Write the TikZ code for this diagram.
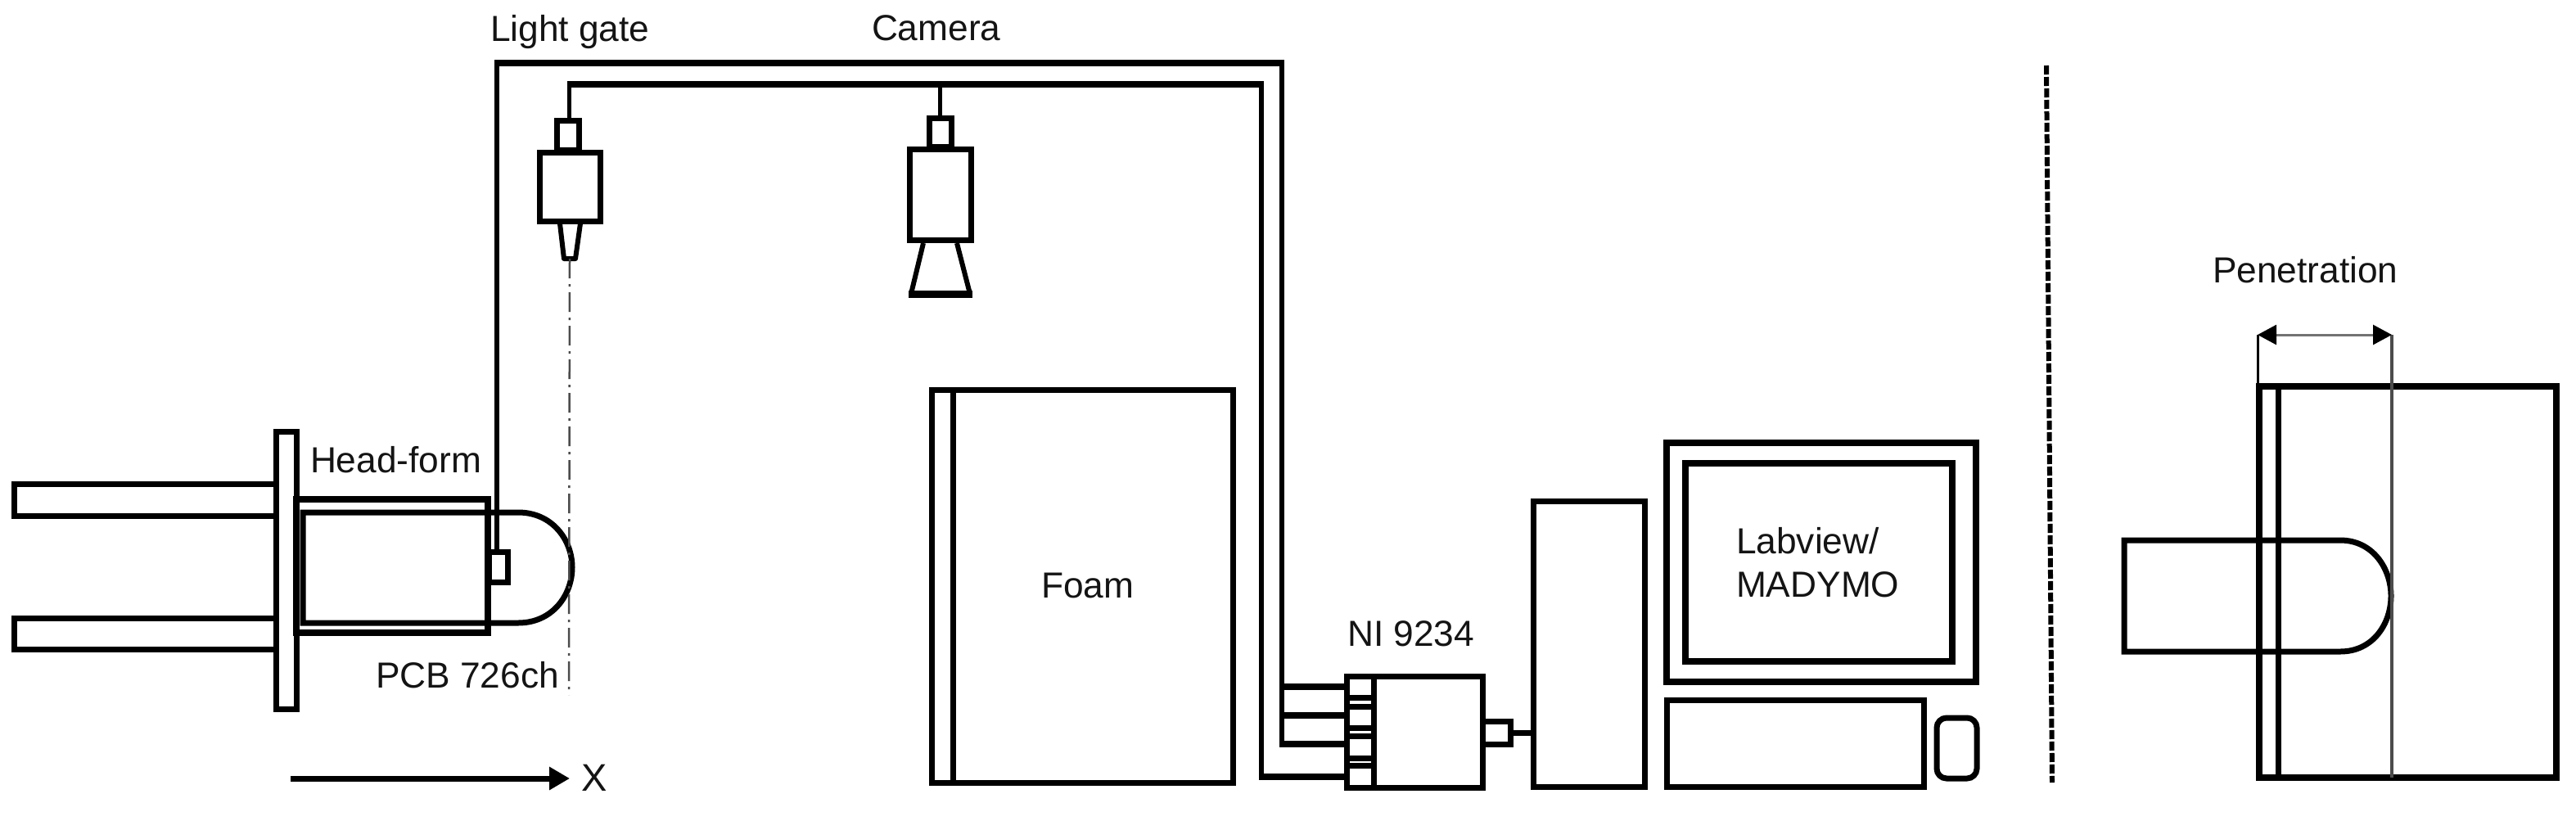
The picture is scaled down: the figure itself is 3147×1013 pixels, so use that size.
\documentclass[tikz,border=0pt]{standalone}
\usepackage{fontspec}
\setmainfont{Liberation Sans}
\usetikzlibrary{arrows.meta}
\tikzset{
  outline/.style={draw=black,line width=#1,fill=none,rectangle,inner sep=0pt,outer sep=0pt},
  outline/.default=7pt,
  label text/.style={anchor=base west,inner sep=0pt,outer sep=0pt,text=black!92,font=\fontsize{44.3}{53}\selectfont,align=left},
  wire/.style={line width=6.5pt,line join=miter},
  thin wire/.style={line width=5pt},
  heavy wire/.style={line width=8.5pt},
  solid arrow/.style={-{Triangle[length=25pt,width=27pt]},line width=7pt},
  measure/.style={{Triangle[length=23pt,width=24pt,black]}-{Triangle[length=23pt,width=24pt,black]},line width=3pt,draw=black!55},
  beam/.style={line width=2.5pt,draw=black!70,dash pattern=on 24pt off 7pt on 3pt off 7pt},
  divider/.style={line width=6pt,dash pattern=on 11pt off 3pt}
}
% #1 style options, #2 name, #3 x1, #4 y1, #5 x2, #6 y2
\newcommand{\boxat}[6][]{\node[outline,#1,minimum width={(#5-#3)*1pt},minimum height={(#6-#4)*1pt}] (#2) at ({(#3+#5)/2},{(#4+#6)/2}) {};}
\begin{document}
\begin{tikzpicture}[x=1pt,y=-1pt]
\useasboundingbox (0,0) rectangle (3147,1013);

% --- Impactor, left
\boxat{rodtop}{17}{591}{337}{630}
\boxat{rodbottom}{17}{755}{337}{793}
\boxat[outline=7pt]{plate}{337}{527}{362}{866}
\boxat[outline=8pt]{sleeve}{362}{610}{596}{773}
\draw[line width=7pt] (370,626) -- (633,626) .. controls (675,626) and (699,660) .. (699,693)
  .. controls (699,727) and (675,761) .. (633,761) -- (370,761) -- cycle;
\boxat{sensor}{597}{674}{620}{711}

\node[label text] (headlabel) at (379,577) {Head-form};
\node[label text] (pcblabel) at (459,840) {PCB 726ch};

% --- Direction arrow
\coordinate (xstart) at (355,951);
\node[label text,font=\fontsize{47}{53}\selectfont,anchor=base west] (xlabel) at (710,966) {X};
\draw[solid arrow] (xstart) -- (696,951);

% --- Light gate
\boxat{gateconn}{680}{147}{707}{183}
\boxat{gatebody}{659}{186}{733}{270}
\node[inner sep=0pt,outer sep=0pt,minimum size=0pt] (gatetip) at (696,316) {};
\draw[line width=6pt,line join=round] (684,273) -- (689,316) -- (703,316) -- (709,273);

% --- Camera
\boxat{camconn}{1135}{144}{1162}{179}
\boxat{cambody}{1111}{182}{1186}{293}
\draw[line width=6pt] (1128,297) -- (1113,359);
\draw[line width=6pt] (1169,297) -- (1185,359);
\draw[line width=9pt] (1110,359) -- (1188,359);

% --- Beam
\coordinate (beamend) at (695,849);
\draw[beam] (gatetip) -- (beamend);

% --- Foam
\boxat[outline=7pt]{foam}{1138}{476}{1506}{956}
\draw[line width=7pt] (1164,476) -- (1164,956);
\node[label text] (foamlabel) at (1272,730) {Foam};

% --- NI module
\boxat{ni}{1645}{826}{1811}{962}
\draw[line width=7pt] (1678,826) -- (1678,962);
\boxat[outline=7pt]{portA}{1645}{826}{1678}{852}
\boxat[outline=7pt]{portB}{1645}{863}{1678}{889}
\boxat[outline=7pt]{portC}{1645}{899}{1678}{926}
\boxat[outline=7pt]{portD}{1645}{935}{1678}{962}
\boxat{nijack}{1811}{881}{1845}{909}
\node[label text] (nilabel) at (1646,789) {NI 9234};

% --- Computer
\boxat{tower}{1873}{612}{2009}{961}
\boxat[outline=8pt]{monitor}{2036}{541}{2414}{833}
\boxat[outline=8pt]{screen}{2059}{566}{2385}{808}
\boxat[outline=7pt]{keyboard}{2036}{855}{2350}{961}
\boxat[outline=7pt,rounded corners=12pt]{mouse}{2366}{877}{2415}{951}
\node[label text] (swlabel) at (2121,729) {Labview/\\MADYMO};

% --- Wiring
\coordinate (wireA) at (607,77);
\coordinate (wireB) at (1566,77);
\coordinate (wireC) at (695,103);
\coordinate (wireD) at (1541,103);
\coordinate (tapA) at (1566,839);
\coordinate (tapB) at (1566,874);
\coordinate (tapC) at (1566,909);
\coordinate (tapD) at (1541,949);
\draw[wire] (sensor.north -| wireA) -- (wireA);
\draw[heavy wire] (604,77) -- (1569,77);
\draw[wire] (wireB) -- (tapC);
\draw[heavy wire] ([xshift=-3pt]tapC) -- (tapC -| portC.west);
\draw[heavy wire] (tapA) -- (tapA -| portA.west);
\draw[heavy wire] (tapB) -- (tapB -| portB.west);
\draw[thin wire] (gateconn.north -| wireC) -- (wireC);
\draw[heavy wire] (692.5,103) -- (1544,103);
\draw[wire] (wireD) -- (tapD);
\draw[heavy wire] ([xshift=-3pt]tapD) -- (tapD -| portD.west);
\draw[thin wire] (camconn.north) -- (camconn.north |- wireC);
\draw[line width=7pt] (nijack.east) -- (nijack.east -| tower.west);

% --- Divider
\coordinate (divtop) at (2500,80);
\coordinate (divbottom) at (2507,956);
\draw[divider] (divtop) -- (divbottom);

% --- Penetration detail
\boxat[outline=8pt]{foamB}{2760}{472}{3123}{950}
\draw[line width=7pt] (2783,472) -- (2783,950);
\draw[line width=7pt] (2595,660) -- (2859,660) .. controls (2899,660) and (2921,695) .. (2921,728)
  .. controls (2921,762) and (2899,796) .. (2859,796) -- (2595,796) -- cycle;
\coordinate (dimL) at (2758,409);
\coordinate (dimR) at (2922,409);
\draw[line width=3pt] (dimL) -- (2758,472);
\draw[line width=4pt,draw=black!70] (dimR) -- (2922,950);
\draw[measure] (dimL) -- (dimR);
\node[label text] (penlabel) at (2703,345) {Penetration};

% --- Top labels
\node[label text] (gatelabel) at (599,50) {Light gate};
\node[label text] (camlabel) at (1065,49) {Camera};
\end{tikzpicture}
\end{document}
